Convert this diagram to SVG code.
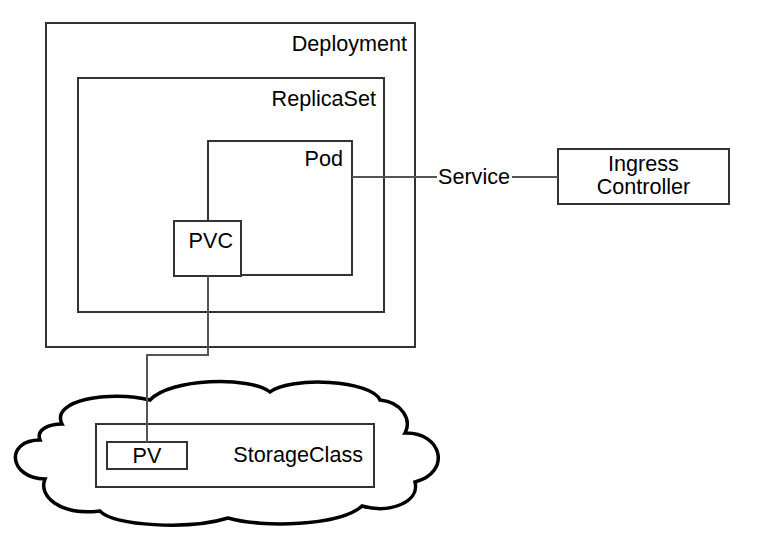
<svg xmlns="http://www.w3.org/2000/svg" width="769" height="544" viewBox="0 0 769 544">
<style>
.box{fill:none;stroke:#333;stroke-width:2}
.wbox{fill:#fff;stroke:#333;stroke-width:2}
.t{font-family:"Liberation Sans",Arial,sans-serif;font-size:21.6px;fill:#000}
.r{text-anchor:end}
.m{text-anchor:middle}
.c{fill:none;stroke:#555;stroke-width:2}
</style>
<rect width="769" height="544" fill="#fff"/>
<g id="cloud">
<path d="M 62,424 C 50,400 110,390 150,400 C 170,378 250,376 270,392 C 290,376 372,380 380,400 C 402,402 412,420 405,433 C 442,432 452,472 415,482 C 420,502 390,514 362,506 C 340,526 262,528 228,518 C 190,530 112,526 100,511 C 60,516 38,496 45,479 C 8,478 5,440 40,440 C 36,430 48,424 62,424 Z" fill="#fff" stroke="#000" stroke-width="3.5"/>
</g>
<g id="deployment">
<rect class="box" x="46" y="23" width="369" height="324"/>
<text class="t r" x="407" y="51">Deployment</text>
</g>
<g id="replicaset">
<rect class="box" x="78" y="78" width="306" height="234"/>
<text class="t r" x="376" y="106">ReplicaSet</text>
</g>
<g id="pod">
<rect class="box" x="208" y="141" width="144" height="134"/>
<text class="t r" x="343" y="166">Pod</text>
</g>
<g id="pvc">
<rect class="wbox" x="174" y="221" width="67" height="55"/>
<text class="t r" x="233" y="248">PVC</text>
</g>
<g id="storageclass">
<rect class="box" x="96" y="424" width="278" height="63"/>
<text class="t r" x="363" y="462">StorageClass</text>
</g>
<g id="pv">
<rect class="box" x="107" y="442" width="80" height="27"/>
<text class="t m" x="147" y="463">PV</text>
</g>
<g id="ingress">
<rect class="box" x="558" y="149" width="171" height="55"/>
<text class="t m" x="643.5" y="171">Ingress</text>
<text class="t m" x="643.5" y="194">Controller</text>
</g>
<g id="service">
<text class="t" x="438" y="184">Service</text>
</g>
<g id="connectors">
<polyline class="c" points="352,177 437,177"/>
<polyline class="c" points="512,177 558,177"/>
<polyline class="c" points="208,276 208,355 147,355 147,442"/>
</g>
</svg>
